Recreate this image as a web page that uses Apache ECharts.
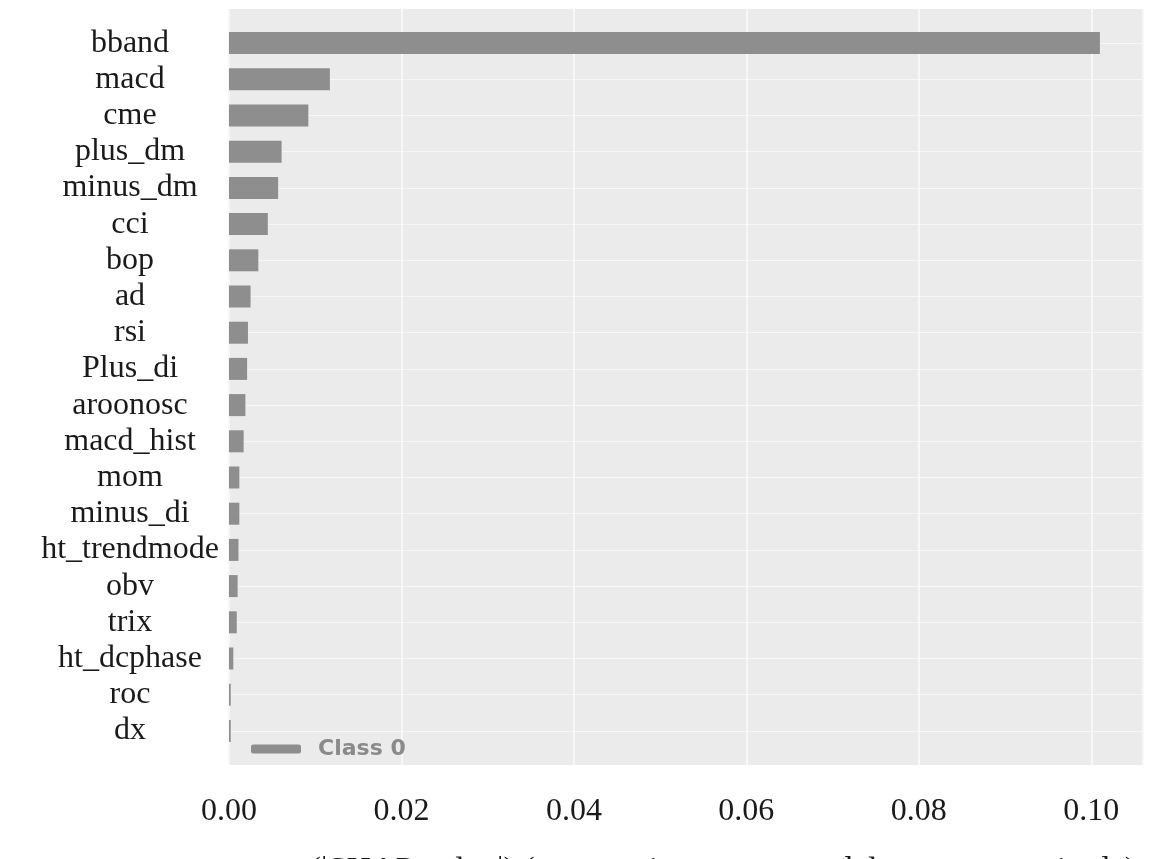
<!DOCTYPE html>
<html>
<head>
<meta charset="utf-8">
<script src="https://cdn.jsdelivr.net/npm/echarts@6/dist/echarts.min.js"></script>
<style>
  html, body { margin: 0; padding: 0; background: #ffffff; }
  #chart { width: 1164px; height: 859px; }
</style>
</head>
<body>
<div id="chart"></div>
<script>
// feature names, top to bottom
const features = [
  'bband', 'macd', 'cme', 'plus_dm', 'minus_dm', 'cci', 'bop', 'ad', 'rsi',
  'Plus_di', 'aroonosc', 'macd_hist', 'mom', 'minus_di', 'ht_trendmode',
  'obv', 'trix', 'ht_dcphase', 'roc', 'dx'
]
// mean |SHAP| per feature
const shapValues = [
  0.1010, 0.0117, 0.0092, 0.0061, 0.0057, 0.0045, 0.0034, 0.0025, 0.0022,
  0.0021, 0.0019, 0.0017, 0.0012, 0.0012, 0.0011,
  0.0010, 0.0009, 0.0005, 0.0002, 0.0002
]
const seriesName = 'Class 0'
const xMax = 0.106
const xStep = 0.02
const xTitle = 'mean(|SHAP value|) (average impact on model output magnitude)'

const chart = echarts.init(document.getElementById('chart'))

const serif = 'Liberation Serif, Times New Roman, serif'

chart.setOption({
  backgroundColor: '#ffffff',
  animation: false,
  legend: {
    left: 246,
    top: 733,
    itemWidth: 50,
    itemHeight: 9,
    itemGap: 10,
    textStyle: { color: '#8a8a8a', fontSize: 22, fontFamily: 'DejaVu Sans', fontWeight: 'bold', padding: [0, 0, 0, 12] },
    data: [{ name: seriesName, icon: 'roundRect', itemStyle: { color: '#8e8e8e' } }]
  },
  grid: [
    // background panel + vertical grid lines
    { left: 229, right: 21, top: 9, bottom: 94, show: true, backgroundColor: '#ebebeb', borderWidth: 0, z: -1, outerBoundsMode: 'none' },
    // bars
    { left: 229, right: 21, top: 25, bottom: 110, outerBoundsMode: 'none' }
  ],
  xAxis: [
    {
      gridIndex: 0,
      type: 'value',
      min: 0,
      max: xMax,
      interval: xStep,
      axisLine: { show: false },
      axisTick: { show: false },
      splitLine: { show: true, lineStyle: { color: '#f7f7f7', width: 2 } },
      axisLabel: {
        color: '#1a1a1a',
        fontFamily: serif,
        fontSize: 32,
        margin: 31,
        showMaxLabel: false,
        formatter: v => v.toFixed(2)
      },
      name: xTitle,
      nameLocation: 'middle',
      nameGap: 89,
      nameTextStyle: { color: '#1a1a1a', fontFamily: serif, fontSize: 34 }
    },
    {
      gridIndex: 1,
      type: 'value',
      min: 0,
      max: xMax,
      show: false
    }
  ],
  yAxis: [
    { gridIndex: 0, type: 'value', show: false },
    {
      gridIndex: 1,
      type: 'category',
      data: features,
      inverse: true,
      axisLine: { show: false },
      axisTick: {
        show: true,
        inside: true,
        alignWithLabel: true,
        interval: 0,
        length: 914,
        lineStyle: { color: 'rgba(255,255,255,0.55)', width: 1 }
      },
      splitLine: { show: false },
      axisLabel: {
        interval: 0,
        color: '#1a1a1a',
        fontFamily: serif,
        fontSize: 32,
        align: 'center',
        margin: 99
      }
    }
  ],
  series: [
    {
      name: seriesName,
      type: 'bar',
      xAxisIndex: 1,
      yAxisIndex: 1,
      data: shapValues,
      barWidth: 22,
      itemStyle: { color: '#8e8e8e' },
      z: 3
    }
  ]
})
</script>
</body>
</html>
